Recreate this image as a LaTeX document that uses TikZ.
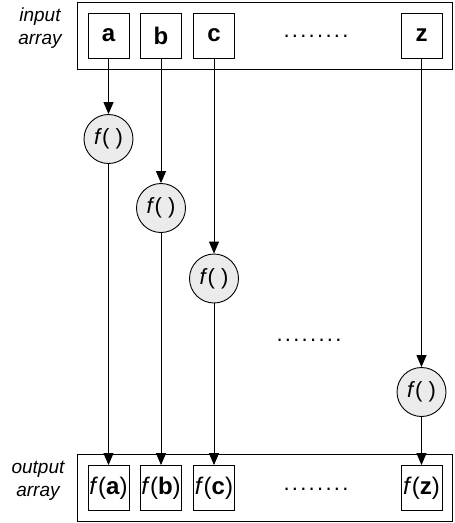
\documentclass[tikz,border=0pt]{standalone}
\usepackage{fontspec}
\setmainfont{Liberation Sans}
\usetikzlibrary{arrows.meta}
\newcommand{\mydots}{.\kern2.3pt.\kern2.3pt.\kern2.3pt.\kern2.3pt.\kern2.3pt.\kern2.3pt.\kern2.3pt.}
\begin{document}
\begin{tikzpicture}[x=1pt,y=-1pt,line width=0.9pt,
  arraybox/.style={draw, minimum width=375pt, minimum height=67pt, inner sep=0pt},
  elem/.style={draw, minimum width=41pt, minimum height=45pt, inner sep=0pt, font=\fontsize{24}{28}\selectfont},
  oelem/.style={elem, font=\fontsize{24}{28}\selectfont},
  fn/.style={draw, circle, fill=black!8, minimum size=49pt, inner sep=0pt, font=\fontsize{22}{26}\selectfont},
  lbl/.style={align=center, font=\itshape\fontsize{19}{23}\selectfont},
  dotsl/.style={font=\fontsize{22}{24}\selectfont},
  arr/.style={-{Triangle[length=12pt,width=10pt]}}]
\useasboundingbox (0,0) rectangle (455,523);
% input array
\node[arraybox] (in) at (264.5,35.5) {};
\node[lbl] (inlbl) at (40,28) {input\\array};
\node[elem] (a) at (108.5,35.5) {\textbf{a}};
\node[elem] (b) at (161,35.5) {\textbf{b}};
\node[elem] (c) at (214,35.5) {\textbf{c}};
\node[elem] (z) at (421.5,35.5) {\textbf{z}};
\node[dotsl] (indots) at (316,36) {\mydots};
% functions
\node[fn] (fa) at (108.5,139) {\textit{f}( )};
\node[fn] (fb) at (161,208) {\textit{f}( )};
\node[fn] (fc) at (214,278.5) {\textit{f}( )};
\node[fn] (fz) at (421.5,392) {\textit{f}( )};
\node[dotsl] (middots) at (309,340) {\mydots};
% output array
\node[arraybox] (out) at (265,488) {};
\node[lbl] (outlbl) at (38,481) {output\\array};
\node[oelem] (oa) at (108.5,488) {\textit{f}(\textbf{a})};
\node[oelem] (ob) at (161,488) {\textit{f}(\textbf{b})};
\node[oelem] (oc) at (214,488) {\textit{f}(\textbf{c})};
\node[oelem] (oz) at (421.5,488) {\textit{f}(\textbf{z})};
\node[dotsl] (outdots) at (316,489) {\mydots};
% connectors
\foreach \s/\f/\t in {a/fa/oa, b/fb/ob, c/fc/oc, z/fz/oz}{
  \draw[arr] (\s.south) -- (\f.north);
  \draw[arr] (\f.south) -- (\t.north);
}
\end{tikzpicture}
\end{document}
